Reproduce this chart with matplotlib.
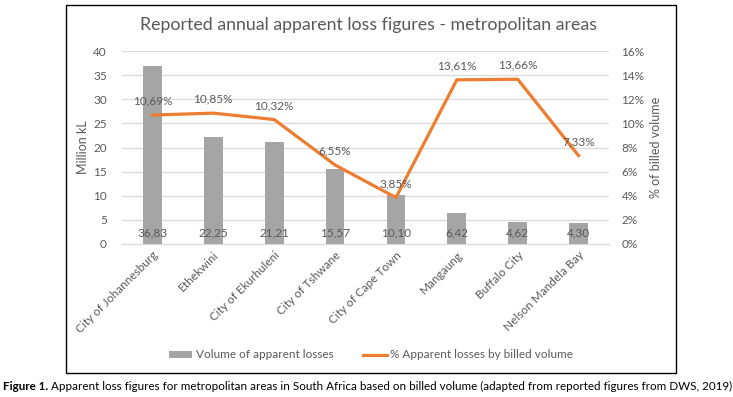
import numpy as np
import matplotlib.pyplot as plt
from matplotlib.patches import Rectangle

cities = ['City of Johannesburg', 'Ethekwini', 'City of Ekurhuleni', 'City of Tshwane',
          'City of Cape Town', 'Mangaung', 'Buffalo City', 'Nelson Mandela Bay']
volume = [36.83, 22.25, 21.21, 15.57, 10.10, 6.42, 4.62, 4.30]
pct = [10.69, 10.85, 10.32, 6.55, 3.85, 13.61, 13.66, 7.33]

grey_txt = '#595959'
plt.rcParams['font.family'] = ['Lato', 'DejaVu Sans']

fig = plt.figure(figsize=(7.33, 3.97), dpi=100)
ax = fig.add_axes([122/733, 1-244/397, 487/733, 193/397])
ax2 = ax.twinx()

ind = np.arange(len(cities))
ax.bar(ind, volume, 0.31, color='#a5a5a5', zorder=2, label='Volume of apparent losses')
ax2.plot(ind, pct, color='#ed7d31', lw=2.3, label='% Apparent losses by billed volume')

ax.set_xlim(-0.5, len(cities) - 0.5)
ax.set_ylim(0, 40)
ax.set_yticks(np.arange(0, 41, 5))
ax2.set_ylim(0, 16)
ax2.set_yticks(np.arange(0, 17, 2))
ax2.set_yticklabels(['%d%%' % v for v in range(0, 17, 2)])
ax.grid(axis='y', color='#d9d9d9', lw=0.9, zorder=0)
ax.set_axisbelow(True)

for a in (ax, ax2):
    for s in a.spines.values():
        s.set_visible(False)
    a.tick_params(length=0, colors=grey_txt, labelsize=8.5)
ax.spines['bottom'].set_visible(True)
ax.spines['bottom'].set_color('#d9d9d9')
ax.tick_params(axis='y', pad=11)
ax2.tick_params(axis='y', pad=9)

ax.set_xticks(ind)
ax.set_xticklabels(cities, rotation=45, ha='right', rotation_mode='anchor', fontsize=8.5)
ax.tick_params(axis='x', pad=4)

ax.set_ylabel('Million kL', color=grey_txt, fontsize=9, labelpad=3)
ax2.set_ylabel('% of billed volume', color=grey_txt, fontsize=9, labelpad=4)

for x, v in zip(ind, volume):
    ax.annotate(('%.2f' % v).replace('.', ','), (x, 0), xytext=(0, 4), textcoords='offset points',
                ha='center', va='bottom', fontsize=8.5, color=grey_txt)
for x, v in zip(ind, pct):
    ax2.annotate(('%.2f%%' % v).replace('.', ','), (x, v), xytext=(0, 6), textcoords='offset points',
                 ha='center', va='bottom', fontsize=8.5, color=grey_txt)

fig.text(369/733, 1-25/397, 'Reported annual apparent loss figures - metropolitan areas',
         ha='center', va='center', fontsize=12.8, color=grey_txt)

h1, l1 = ax.get_legend_handles_labels()
h2, l2 = ax2.get_legend_handles_labels()
fig.legend(h1 + h2, l1 + l2, loc='center', bbox_to_anchor=(371/733, 1-355/397), ncol=2,
           frameon=False, fontsize=8.5, labelcolor=grey_txt, handlelength=2.0,
           handleheight=0.5, columnspacing=2.5, handletextpad=0.3)

fig.patches.append(Rectangle((66/733, 1-373/397), 610/733, 368/397, transform=fig.transFigure,
                             fill=False, edgecolor='black', lw=1.0))

# caption: bold lead-in, regular remainder placed right after it
cap_y = 1 - 386/397
lead = fig.text(3/733, cap_y, 'Figure 1.', ha='left', va='center', fontsize=8.4,
                fontweight='bold', color='black')
fig.canvas.draw()
bb = lead.get_window_extent().transformed(fig.transFigure.inverted())
fig.text(bb.x1 + 3/733, cap_y,
         'Apparent loss figures for metropolitan areas in South Africa based on billed volume '
         '(adapted from reported figures from DWS, 2019)',
         ha='left', va='center', fontsize=8.4, color='black')

fig.savefig('out.png', dpi=100)
